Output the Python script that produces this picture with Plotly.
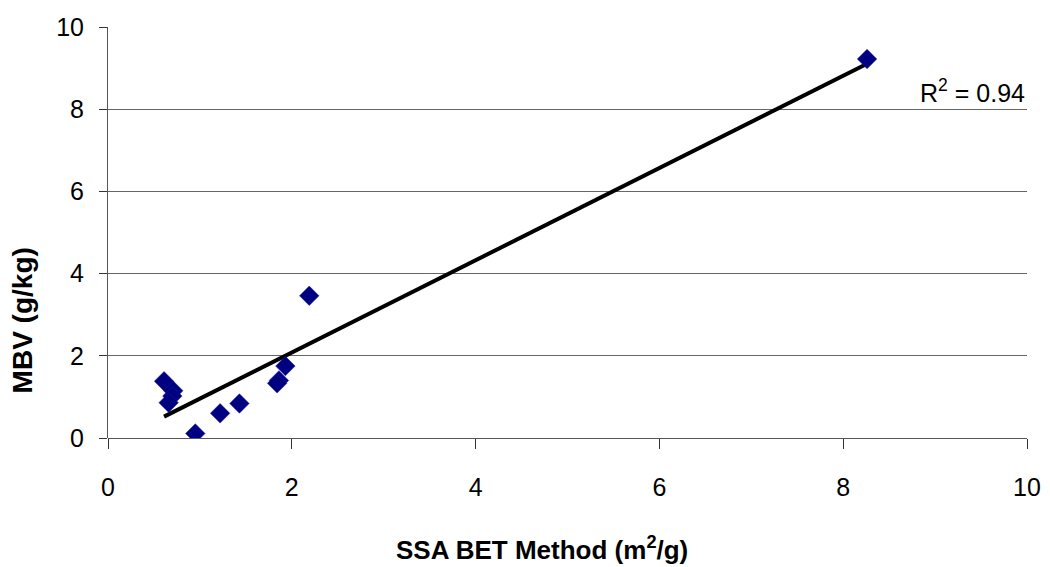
import numpy as np
import plotly.graph_objects as go

ssa_bet = [0.61, 0.71, 0.70, 0.66, 0.95, 1.22, 1.43, 1.86, 1.84, 1.93, 2.19, 8.26]
mbv = [1.38, 1.15, 1.02, 0.86, 0.11, 0.60, 0.84, 1.40, 1.33, 1.75, 3.46, 9.22]
r2_label = "R<sup>2</sup> = 0.94"
x_title = "<b>SSA BET Method (m<sup>2</sup>/g)</b>"
y_title = "<b>MBV (g/kg)</b>"
tick_vals = [0, 2, 4, 6, 8, 10]

x = np.array(ssa_bet)
y = np.array(mbv)
slope, intercept = np.polyfit(x, y, 1)
xfit = np.array([x.min(), x.max()])
yfit = slope * xfit + intercept

FONT = "Liberation Sans, Arial"

fig = go.Figure()
fig.add_trace(go.Scatter(
    x=xfit, y=yfit, mode="lines",
    line=dict(color="black", width=4), showlegend=False, hoverinfo="skip"))
fig.add_trace(go.Scatter(
    x=ssa_bet, y=mbv, mode="markers",
    marker=dict(symbol="diamond", size=15, color="#000080",
                line=dict(color="#1a1aa0", width=0.5)),
    showlegend=False))

fig.add_annotation(x=1.0, y=8.45, xref="paper", yref="y", xanchor="right",
                   yanchor="middle", text=r2_label, showarrow=False,
                   font=dict(family=FONT, size=25, color="black"))
fig.add_annotation(x=0.472, y=-0.268, xref="paper", yref="paper",
                   xanchor="center", yanchor="middle", text=x_title,
                   showarrow=False,
                   font=dict(family=FONT, size=26, color="black"))
fig.add_annotation(x=-0.093, y=0.285, xref="paper", yref="paper",
                   xanchor="center", yanchor="middle", text=y_title,
                   textangle=-90, showarrow=False,
                   font=dict(family=FONT, size=28, color="black"))

fig.update_layout(
    width=1053, height=567,
    margin=dict(l=108, r=21, t=27, b=129),
    paper_bgcolor="white", plot_bgcolor="white",
    font=dict(family=FONT, color="black"),
    xaxis=dict(range=[0, 10], tickvals=tick_vals, showgrid=False,
               zeroline=False, showline=False,
               ticks="outside", ticklen=10, tickcolor="#333", tickwidth=1,
               ticklabelstandoff=17,
               tickfont=dict(size=25, color="black")),
    yaxis=dict(range=[0, 10], tickvals=tick_vals, showgrid=True,
               gridcolor="#666", gridwidth=1, zeroline=True,
               zerolinecolor="#555", zerolinewidth=1,
               showline=True, linecolor="#555", linewidth=1,
               ticks="outside", ticklen=8, tickcolor="#333",
               ticklabelstandoff=10,
               tickfont=dict(size=25, color="black")),
)

fig.write_html("out.html")
